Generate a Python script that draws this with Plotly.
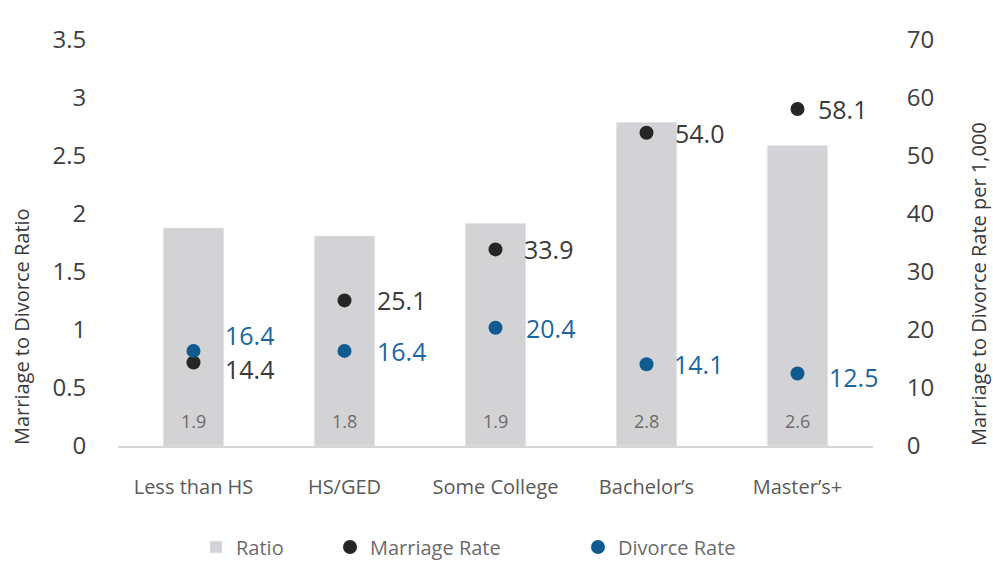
import plotly.graph_objects as go

categories = ["Less than HS", "HS/GED", "Some College", "Bachelor’s", "Master’s+"]
ratio = [1.88, 1.81, 1.92, 2.79, 2.59]
marriage_rate = [14.4, 25.1, 33.9, 54.0, 58.1]
divorce_rate = [16.4, 16.4, 20.4, 14.1, 12.5]
left_ticks = [0, 0.5, 1, 1.5, 2, 2.5, 3, 3.5]
left_ticktext = ["0", "0.5", "1", "1.5", "2", "2.5", "3", "3.5"]
right_ticks = [0, 10, 20, 30, 40, 50, 60, 70]

FONT = "Open Sans"
BAR_C = "#d3d3d5"
MAR_C = "#262626"
DIV_C = "#0f5a8e"
MAR_T = "#3a3a3a"
DIV_T = "#1c66a0"

# label placement tweaks (style only)
mar_xshift = [29, 30, 26, 26, 18]
mar_yshift = [-7, 0, 0, 0, 0]
div_xshift = [29, 30, 28, 25, 29]
div_yshift = [16, 0, 0, 0, -3]

fig = go.Figure()
fig.add_trace(go.Bar(x=categories, y=ratio, name="Ratio", marker_color=BAR_C,
                     width=0.4, yaxis="y", legend="legend", hoverinfo="y"))
fig.add_trace(go.Scatter(x=categories, y=marriage_rate, name="Marriage Rate", mode="markers",
                         marker=dict(color=MAR_C, size=14), yaxis="y2", legend="legend2"))
fig.add_trace(go.Scatter(x=categories, y=divorce_rate, name="Divorce Rate", mode="markers",
                         marker=dict(color=DIV_C, size=14), yaxis="y2", legend="legend3"))

ann = []
for i, c in enumerate(categories):
    ann.append(dict(x=c, y=marriage_rate[i], xref="x", yref="y2", text=f"{marriage_rate[i]:.1f}",
                    showarrow=False, xanchor="left", yanchor="middle", xshift=mar_xshift[i],
                    yshift=mar_yshift[i], font=dict(family=FONT, size=25, color=MAR_T)))
    ann.append(dict(x=c, y=divorce_rate[i], xref="x", yref="y2", text=f"{divorce_rate[i]:.1f}",
                    showarrow=False, xanchor="left", yanchor="middle", xshift=div_xshift[i],
                    yshift=div_yshift[i], font=dict(family=FONT, size=25, color=DIV_T)))
    ann.append(dict(x=c, y=0, xref="x", yref="y", text=f"{ratio[i]:.1f}", showarrow=False,
                    xanchor="center", yanchor="bottom", yshift=11,
                    font=dict(family=FONT, size=18, color="#6b6b6b")))

ann.append(dict(x=(21 - 118) / 755, y=0.293, xref="paper", yref="paper",
                text="Marriage to Divorce Ratio", textangle=-90, showarrow=False,
                xanchor="center", yanchor="middle", font=dict(family=FONT, size=20, color="#3a3a3a")))
ann.append(dict(x=(978 - 118) / 755, y=0.399, xref="paper", yref="paper",
                text="Marriage to Divorce Rate per 1,000", textangle=-90, showarrow=False,
                xanchor="center", yanchor="middle", font=dict(family=FONT, size=20, color="#3a3a3a")))

legend_font = dict(family=FONT, size=20, color="#6b6b6b")
leg_y = (446 - 547) / 406
fig.update_layout(
    width=993, height=562,
    margin=dict(l=118, r=120, t=40, b=116, autoexpand=False),
    paper_bgcolor="white", plot_bgcolor="white",
    font=dict(family=FONT),
    annotations=ann,
    showlegend=True,
    legend=dict(x=(196 - 118) / 755, y=leg_y, xanchor="left", yanchor="middle", font=legend_font,
                bgcolor="rgba(0,0,0,0)"),
    legend2=dict(x=(330 - 118) / 755, y=leg_y, xanchor="left", yanchor="middle", font=legend_font,
                 bgcolor="rgba(0,0,0,0)"),
    legend3=dict(x=(578 - 118) / 755, y=leg_y, xanchor="left", yanchor="middle", font=legend_font,
                 bgcolor="rgba(0,0,0,0)", itemwidth=30),
    xaxis=dict(range=[-0.5, 4.5], showline=True, linecolor="#d6d6d6", linewidth=2, showgrid=False,
               ticks="outside", ticklen=22, tickcolor="rgba(0,0,0,0)",
               tickfont=dict(family=FONT, size=20, color="#595959")),
    yaxis=dict(range=[0, 3.5], tickvals=left_ticks, ticktext=left_ticktext, showgrid=False,
               zeroline=False, showline=False, ticks="outside", ticklen=26,
               tickcolor="rgba(0,0,0,0)", tickfont=dict(family=FONT, size=24, color="#404040")),
    yaxis2=dict(range=[0, 70], tickvals=right_ticks, overlaying="y", side="right",
                showgrid=False, zeroline=False, showline=False, ticks="outside", ticklen=28,
                tickcolor="rgba(0,0,0,0)", tickfont=dict(family=FONT, size=24, color="#404040")),
)

fig.write_html("out.html", config={"displayModeBar": False},
               post_script="document.body.style.margin='0';document.body.style.overflow='hidden';")
